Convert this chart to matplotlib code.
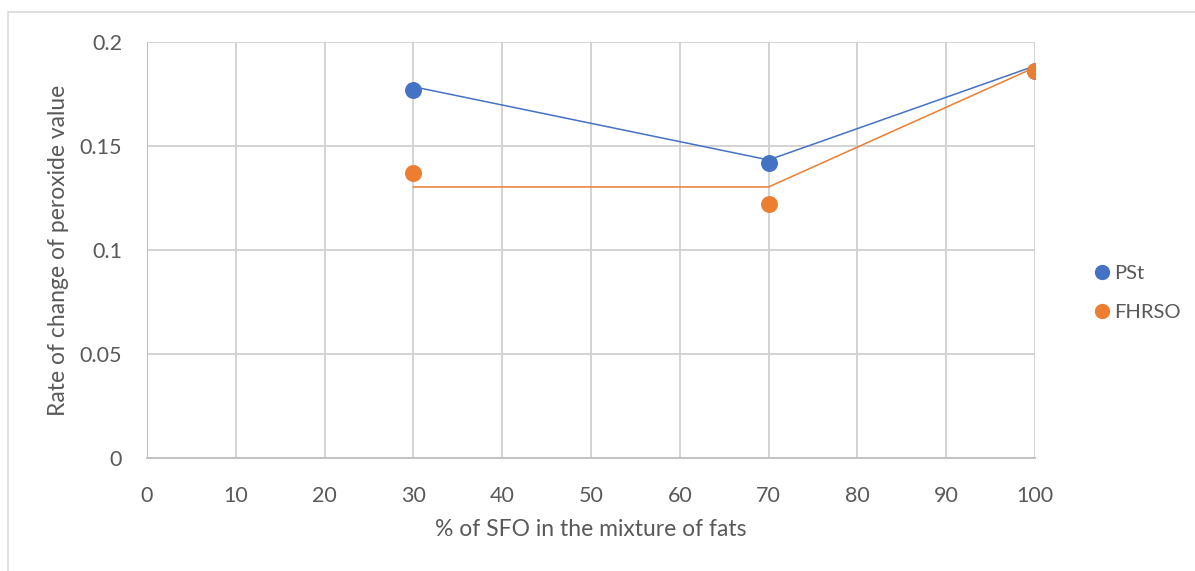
import matplotlib.pyplot as plt
from matplotlib.lines import Line2D
from matplotlib.patches import Rectangle

plt.rcParams['font.family'] = ['Lato', 'DejaVu Sans']

# data
x_pts = [30, 70, 100]
pst_pts = [0.177, 0.142, 0.186]
fhrso_pts = [0.137, 0.122, 0.186]
# trend lines drawn in the chart
pst_line = [0.1785, 0.1433, 0.1885]
fhrso_line = [0.1303, 0.1303, 0.1878]

x_ticks = [0, 10, 20, 30, 40, 50, 60, 70, 80, 90, 100]
y_ticks = [0, 0.05, 0.1, 0.15, 0.2]
y_labels = ['0', '0.05', '0.1', '0.15', '0.2']

blue = '#4472C4'
orange = '#ED7D31'
txt = '#595959'

fig = plt.figure(figsize=(11.95, 5.71), dpi=100)
fig.patches.append(Rectangle((8 / 1195, -0.01), 1.2, 1 - 12 / 571 + 0.01,
                             transform=fig.transFigure, fill=False,
                             edgecolor='#D9D9D9', linewidth=1.2))
ax = fig.add_axes([147 / 1195, 1 - 458 / 571, (1035 - 147) / 1195, (458 - 42) / 571])

ax.plot(x_pts, pst_line, color=blue, lw=1.1, zorder=3)
ax.plot(x_pts, fhrso_line, color=orange, lw=1.1, zorder=3)
ax.scatter(x_pts, pst_pts, s=125, color=blue, zorder=4, label='PSt')
ax.scatter(x_pts, fhrso_pts, s=125, color=orange, zorder=4, label='FHRSO')

ax.set_xlim(0, 100)
ax.set_ylim(0, 0.2)
ax.set_xticks(x_ticks)
ax.set_yticks(y_ticks)
ax.set_yticklabels(y_labels)
ax.grid(True, color='#D0D0D0', lw=1.3)
ax.set_axisbelow(True)
for s in ['top', 'right']:
    ax.spines[s].set_visible(False)
ax.spines['left'].set_color('#A9C4EB')
ax.spines['bottom'].set_color('#BFBFBF')
ax.spines['bottom'].set_linewidth(1.3)
ax.tick_params(length=0, labelsize=15.5, colors=txt)
ax.tick_params(axis='x', pad=20)
ax.tick_params(axis='y', pad=18)

ax.set_xlabel('% of SFO in the mixture of fats', fontsize=16.5, color=txt, va='center')
ax.set_ylabel('Rate of change of peroxide value', fontsize=16.5, color=txt, va='center')
ax.xaxis.set_label_coords(0.5, -0.173)
ax.yaxis.set_label_coords(-0.10, 0.5)

handles = [Line2D([], [], marker='o', ls='', color=blue, markersize=10),
           Line2D([], [], marker='o', ls='', color=orange, markersize=10)]
fig.legend(handles, ['PSt', 'FHRSO'], loc='center left',
           bbox_to_anchor=(1072 / 1195, 1 - 293 / 571), frameon=False,
           fontsize=14.5, labelcolor=txt, handletextpad=0.0, labelspacing=1.1,
           handlelength=1.2)

plt.savefig('out.png', dpi=100)
